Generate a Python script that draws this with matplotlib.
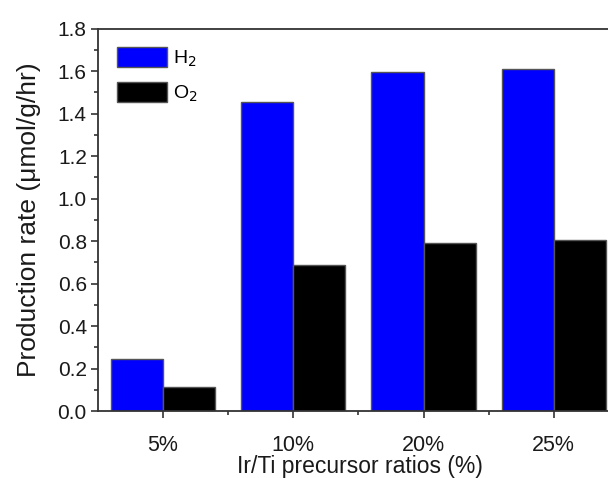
import numpy as np
import matplotlib.pyplot as plt
from matplotlib.ticker import MultipleLocator, FixedLocator

plt.rcParams['font.family'] = ['Liberation Sans', 'DejaVu Sans']

ratios = ['5%', '10%', '20%', '25%']
h2_rate = [0.247, 1.455, 1.597, 1.611]
o2_rate = [0.113, 0.688, 0.793, 0.803]

x = np.arange(1, len(ratios) + 1)
width = 0.4

fig = plt.figure(figsize=(6.08, 4.78), dpi=100)
ax = fig.add_axes([0.161, 0.140, 0.857, 0.800])

ax.bar(x - width / 2, h2_rate, width, color='#0000ff', edgecolor='#555555',
       linewidth=1.0, label='H$_2$')
ax.bar(x + width / 2, o2_rate, width, color='black', edgecolor='#555555',
       linewidth=1.0, label='O$_2$')

ax.set_xlim(0.5, 4.5)
ax.set_ylim(0, 1.8)
ax.set_xticks(x)
ax.set_xticklabels(ratios)
ax.xaxis.set_minor_locator(FixedLocator(x[:-1] + 0.5))
ax.yaxis.set_major_locator(MultipleLocator(0.2))
ax.yaxis.set_minor_locator(MultipleLocator(0.1))

for s in ax.spines.values():
    s.set_color('#333333')
    s.set_linewidth(1.3)
ax.tick_params(which='both', direction='out', colors='#333333', labelcolor='#1a1a1a',
               width=1.2)
ax.tick_params(which='major', length=5)
ax.tick_params(which='minor', length=3)
ax.tick_params(axis='y', which='major', labelsize=15, pad=3)
ax.tick_params(axis='x', which='major', pad=12, labelsize=15.5)

# x label sits just under the tick labels, near the bottom edge
ax.set_xlabel('Ir/Ti precursor ratios (%)', fontsize=16.5, color='#1a1a1a')
ax.xaxis.set_label_coords(0.503, -0.116)
ax.set_ylabel('Production rate (\u03bcmol/g/hr)', fontsize=19, color='#1a1a1a', labelpad=12)

ax.legend(loc='upper left', frameon=False, fontsize=14, handlelength=2.6,
          handleheight=1.2, handletextpad=0.3, labelspacing=0.7,
          borderpad=0, borderaxespad=0, bbox_to_anchor=(0.036, 0.952))

plt.savefig('out.png', dpi=100)
